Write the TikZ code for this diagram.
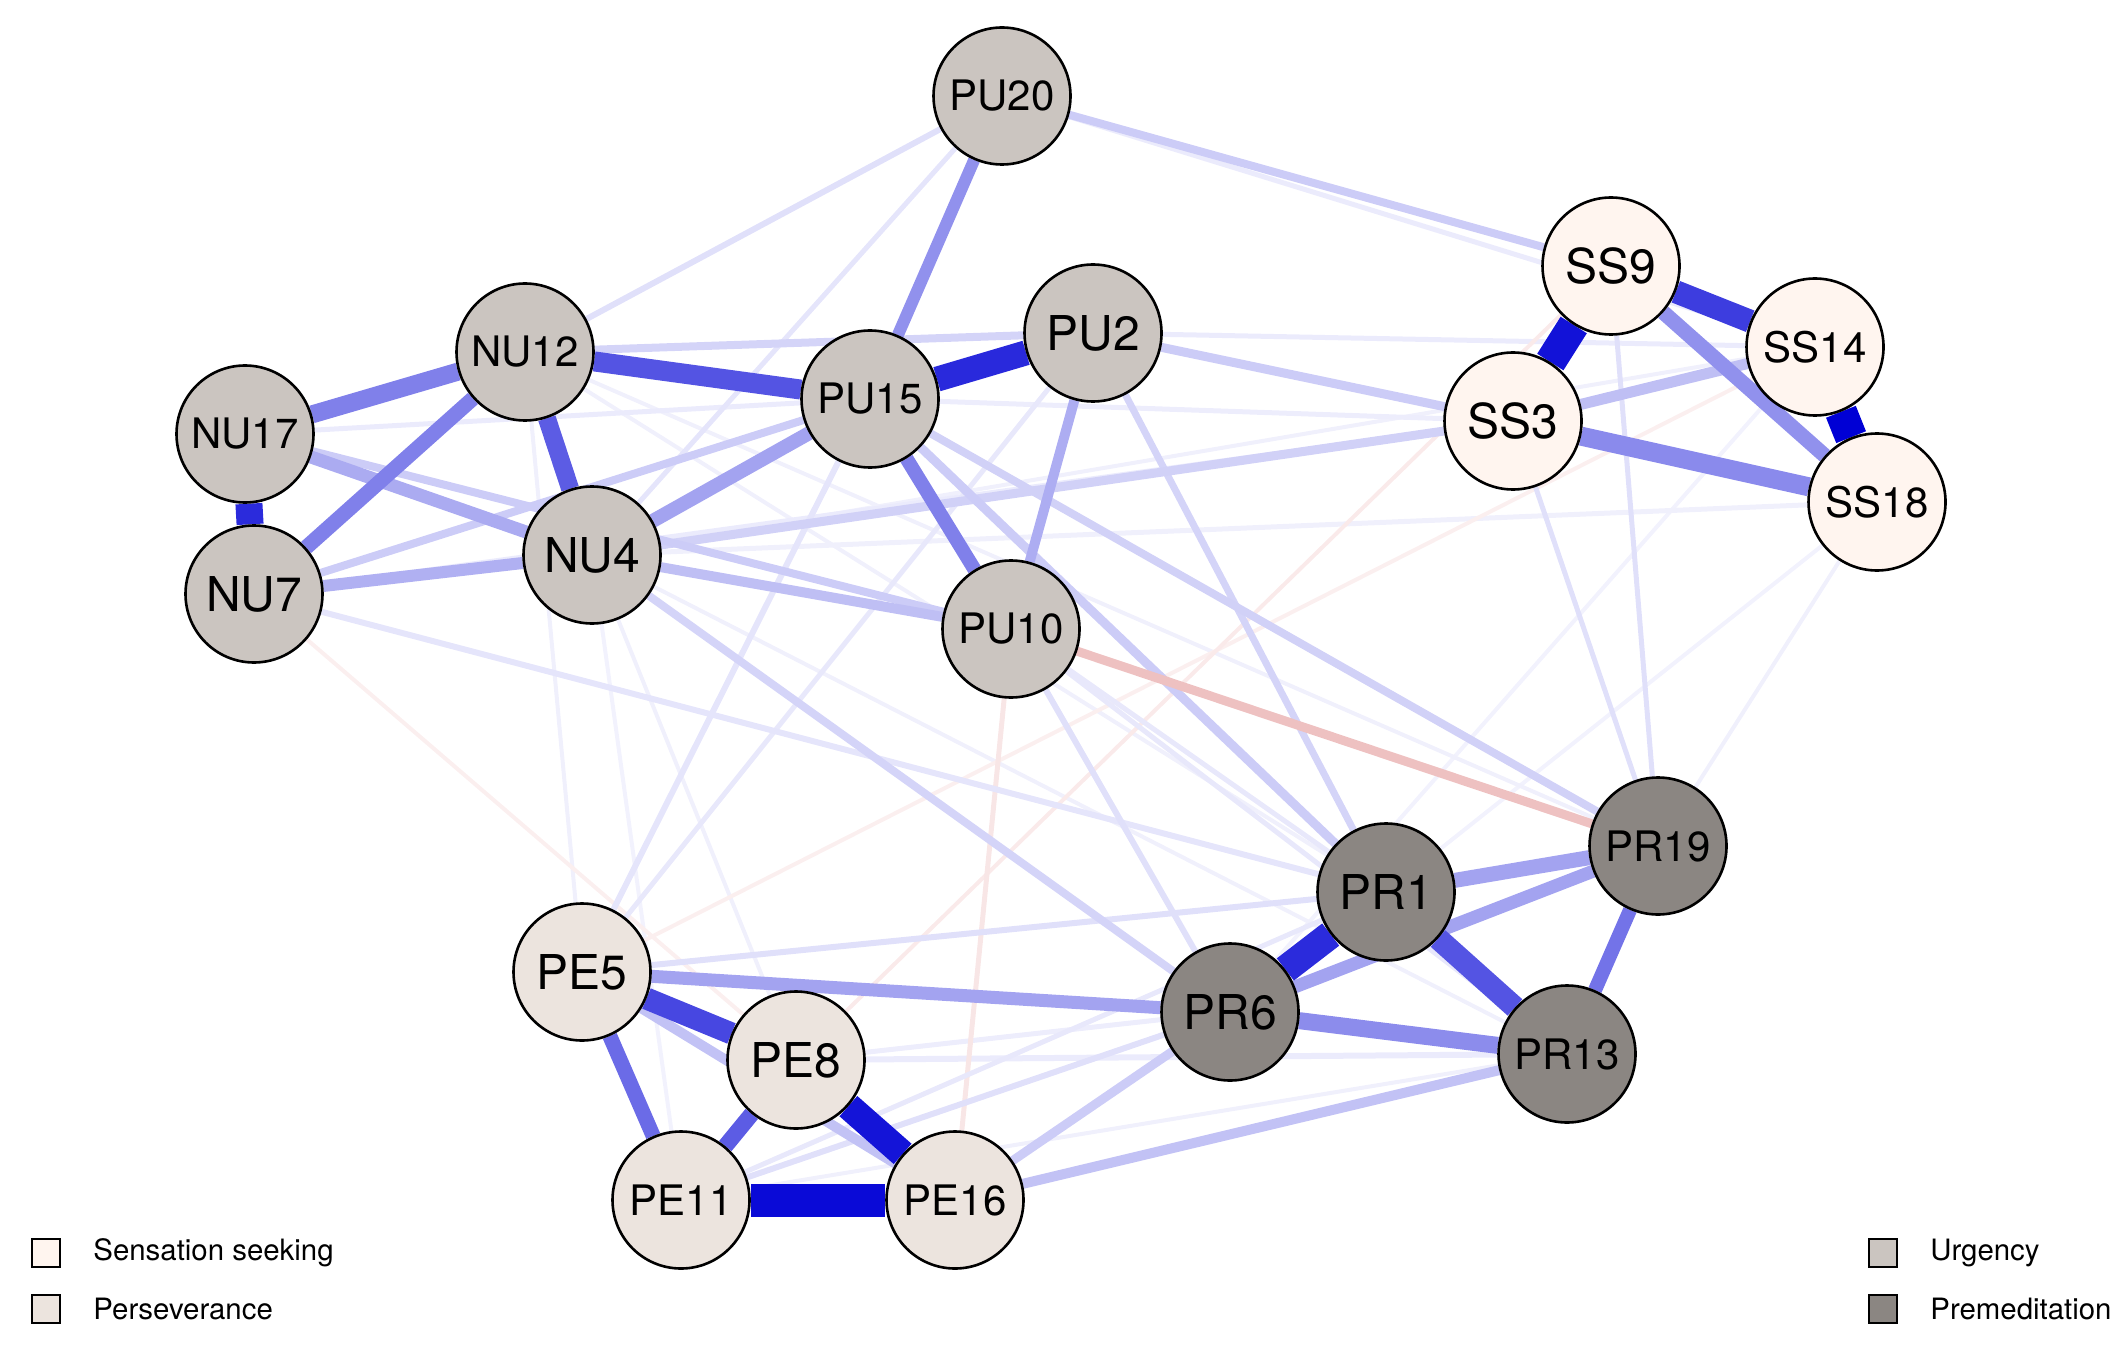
\documentclass[tikz,border=0pt]{standalone}
\usepackage{fontspec}
\setmainfont{TeX Gyre Heros}
\usetikzlibrary{backgrounds}
\definecolor{posb}{RGB}{0,0,213}
\definecolor{negr}{RGB}{200,50,50}
\definecolor{ssc}{RGB}{255,245,239}
\definecolor{pec}{RGB}{236,228,222}
\definecolor{urc}{RGB}{203,197,192}
\definecolor{prc}{RGB}{139,134,130}
\tikzset{
  nd/.style={circle, draw=black, line width=1.3pt, minimum size=68.5pt, inner sep=0pt, font=\fontsize{21}{21}\selectfont},
  bigl/.style={font=\fontsize{24}{24}\selectfont},
  ssn/.style={nd, fill=ssc},
  pen/.style={nd, fill=pec},
  urn/.style={nd, fill=urc},
  prn/.style={nd, fill=prc},
  pe/.style 2 args={draw=posb!#1!white, line width=#2*0.5pt},
  ne/.style 2 args={draw=negr!#1!white, line width=#2*0.5pt},
  legsq/.style={draw=black, line width=1.2pt, minimum size=14pt, inner sep=0pt},
  legtx/.style={anchor=west, font=\fontsize{14.7}{15}\selectfont, inner sep=0pt}
}
\begin{document}
\begin{tikzpicture}[x=0.5pt,y=-0.5pt]
\useasboundingbox (0,0) rectangle (2128,1347);
% nodes
\node[urn] (PU20) at (1002,96) {PU20};
\node[ssn,bigl] (SS9) at (1611,266) {SS9};
\node[ssn] (SS14) at (1815,347) {SS14};
\node[ssn,bigl] (SS3) at (1513,421) {SS3};
\node[ssn] (SS18) at (1877,502) {SS18};
\node[urn,bigl] (PU2) at (1093,333) {PU2};
\node[urn] (PU15) at (870,399) {PU15};
\node[urn] (NU12) at (525,352) {NU12};
\node[urn] (NU17) at (245,434) {NU17};
\node[urn,bigl] (NU7) at (254,594) {NU7};
\node[urn,bigl] (NU4) at (592,555) {NU4};
\node[urn] (PU10) at (1011,629) {PU10};
\node[prn] (PR19) at (1658,846) {PR19};
\node[prn,bigl] (PR1) at (1386,892) {PR1};
\node[prn,bigl] (PR6) at (1230,1012) {PR6};
\node[prn] (PR13) at (1567,1054) {PR13};
\node[pen,bigl] (PE5) at (582,972) {PE5};
\node[pen,bigl] (PE8) at (796,1060) {PE8};
\node[pen] (PE11) at (681,1200) {PE11};
\node[pen] (PE16) at (955,1200) {PE16};
% edges
\begin{scope}[on background layer]
% very faint
\draw[pe={5}{4}] (SS14) -- (PR6);
\draw[pe={5}{4}] (SS18) -- (PR1);
\draw[pe={5}{4}] (NU4) -- (PE11);
\draw[pe={6}{4}] (NU12) -- (PE5);
\draw[pe={6}{4}] (NU4) -- (PE8);
\draw[pe={6}{4}] (PE11) -- (PR13);
\draw[pe={6}{4}] (SS18) -- (PR19);
\draw[pe={6}{4}] (NU12) -- (PR19);
\draw[pe={6}{4}] (NU12) -- (PR1);
\draw[pe={6}{4}] (NU4) -- (PR13);
\draw[pe={6}{5}] (NU4) -- (SS18);
\draw[pe={6}{4}] (NU4) -- (SS14);
\draw[pe={7}{5}] (PU15) -- (SS3);
\draw[pe={7}{5}] (PE8) -- (PR6);
\draw[pe={8}{5}] (PU20) -- (SS14);
\draw[pe={8}{5}] (NU17) -- (PU15);
\draw[pe={8}{5}] (PU2) -- (SS14);
\draw[pe={8}{5}] (NU7) -- (SS3);
\draw[pe={8}{6}] (PE8) -- (PR13);
\draw[ne={8}{4}] (NU7) -- (PE8);
\draw[ne={8}{4}] (SS14) -- (PE5);
\draw[ne={10}{4}] (SS9) -- (PE8);
\draw[ne={12}{5}] (PU10) -- (PE16);
\draw[pe={9}{5}] (PE5) -- (PU2);
\draw[pe={9}{5}] (PE11) -- (PR1);
\draw[pe={9}{5}] (PU10) -- (PR13);
\draw[pe={9}{5}] (PU10) -- (PR1);
\draw[pe={10}{5}] (PU20) -- (NU4);
\draw[pe={10}{6}] (NU7) -- (PR1);
\draw[pe={10}{6}] (PE5) -- (PU15);
\draw[pe={12}{6}] (NU12) -- (PU20);
\draw[pe={12}{6}] (PE5) -- (PR1);
\draw[pe={12}{6}] (PE11) -- (PR6);
\draw[pe={12}{6}] (PU10) -- (PR6);
\draw[pe={12}{5}] (SS3) -- (PR19);
\draw[pe={12}{5}] (SS9) -- (PR19);
% light
\draw[pe={17}{8}] (NU12) -- (PU2);
\draw[pe={17}{7}] (PU2) -- (PR1);
\draw[pe={17}{8}] (NU4) -- (PR6);
\draw[pe={18}{9}] (NU4) -- (SS3);
\draw[pe={18}{8}] (PU15) -- (PR19);
\draw[pe={20}{9}] (PU15) -- (PR1);
\draw[pe={20}{8}] (NU7) -- (PU15);
\draw[pe={20}{8}] (NU17) -- (PU10);
\draw[pe={20}{8}] (PU20) -- (SS9);
\draw[pe={20}{9}] (PU2) -- (SS3);
\draw[pe={20}{9}] (PE16) -- (PR6);
\draw[ne={30}{9}] (PU10) -- (PR19);
\draw[pe={24}{10}] (PE16) -- (PR13);
\draw[pe={24}{10}] (PE5) -- (PE16);
\draw[pe={25}{11}] (SS3) -- (SS14);
\draw[pe={25}{10}] (NU4) -- (PU10);
% medium
\draw[pe={31}{12}] (NU7) -- (NU4);
\draw[pe={32}{10}] (PU2) -- (PU10);
\draw[pe={33}{13}] (NU17) -- (NU4);
\draw[pe={36}{14}] (NU4) -- (PU15);
\draw[pe={36}{15}] (PR1) -- (PR19);
\draw[pe={36}{13}] (PR6) -- (PR19);
\draw[pe={36}{13}] (PE5) -- (PR6);
\draw[pe={43}{15}] (SS9) -- (SS18);
\draw[pe={43}{12}] (PU15) -- (PU20);
\draw[pe={45}{17}] (PR6) -- (PR13);
\draw[pe={46}{19}] (SS3) -- (SS18);
\draw[pe={50}{14}] (PU15) -- (PU10);
\draw[pe={50}{18}] (NU12) -- (NU17);
\draw[pe={50}{15}] (NU12) -- (NU7);
\draw[pe={55}{14}] (PR19) -- (PR13);
\draw[pe={58}{15}] (PE5) -- (PE11);
\draw[pe={64}{16}] (PE8) -- (PE11);
\draw[pe={64}{18}] (NU12) -- (NU4);
% strong
\draw[pe={67}{20}] (NU12) -- (PU15);
\draw[pe={67}{22}] (PR1) -- (PR13);
\draw[pe={72}{22}] (PE5) -- (PE8);
\draw[pe={76}{23}] (SS9) -- (SS14);
\draw[pe={84}{25}] (PU15) -- (PU2);
\draw[pe={83}{27}] (NU17) -- (NU7);
\draw[pe={83}{28}] (PR1) -- (PR6);
\draw[pe={92}{27}] (PE8) -- (PE16);
\draw[pe={93}{31}] (SS9) -- (SS3);
\draw[pe={100}{32}] (SS14) -- (SS18);
\draw[pe={96}{33}] (PE11) -- (PE16);
\end{scope}
% legend
\node[legsq, fill=ssc] (L1) at (46,1253) {};
\node[legtx] (T1) at (93,1253) {Sensation seeking};
\node[legsq, fill=pec] (L2) at (46,1309) {};
\node[legtx] (T2) at (93,1309) {Perseverance};
\node[legsq, fill=urc] (L3) at (1883,1253) {};
\node[legtx] (T3) at (1930,1253) {Urgency};
\node[legsq, fill=prc] (L4) at (1883,1309) {};
\node[legtx] (T4) at (1930,1309) {Premeditation};
\end{tikzpicture}
\end{document}
